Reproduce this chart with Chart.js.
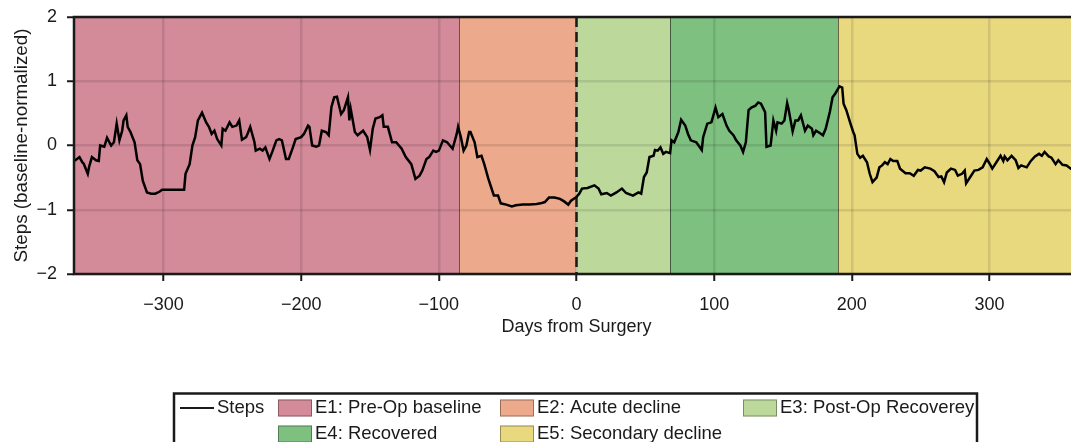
<!DOCTYPE html>
<html>
<head>
<meta charset="utf-8">
<script src="https://cdn.jsdelivr.net/npm/chart.js@4.4.1/dist/chart.umd.min.js"></script>
<style>
  html, body { margin: 0; padding: 0; background: #fff; overflow: hidden; }
  #wrap { position: relative; width: 1100px; height: 442px; }
  canvas { display: block; }
</style>
</head>
<body>
<div id="wrap"><canvas id="chart" width="1100" height="442"></canvas></div>
<script>
// データ: 手術からの日数と歩数 (ベースライン正規化)
const days = [
  -365,-364,-361,-359,-358,-355,-354,-352,-349,-347,
  -346,-343,-341,-338,-336,-334,-332,-330,-329,-327,
  -326,-324,-321,-319,-317,-315,-312,-309,-306,-303,
  -301,-285,-284,-281,-279,-277,-275,-272,-269,-267,
  -265,-263,-261,-258,-257,-255,-252,-250,-247,-245,
  -243,-240,-239,-237,-234,-233,-230,-228,-226,-223,
  -221,-218,-216,-214,-211,-209,-206,-204,-200,-198,
  -195,-194,-192,-189,-187,-185,-182,-180,-178,-176,
  -174,-171,-169,-166,-165,-164,-161,-159,-155,-152,
  -150,-148,-146,-143,-141,-140,-137,-134,-131,-127,
  -124,-120,-117,-114,-112,-109,-107,-104,-102,-100,
  -97,-94,-90,-87,-86,-84,-82,-80,-78,-77,
  -74,-72,-69,-67,-64,-62,-60,-57,-55,-51,
  -47,-44,-39,-34,-29,-26,-23,-20,-16,-12,
  -9,-6,-4,0,2,4,8,13,16,18,
  22,25,29,33,36,41,45,47,49,51,
  53,56,57,59,61,63,65,68,69,71,
  74,76,79,81,83,87,91,92,95,98,
  101,103,106,109,111,114,116,119,121,123,
  125,127,130,132,134,137,138,141,143,145,
  146,149,151,153,154,157,159,161,163,166,
  168,171,172,174,177,179,181,184,186,188,
  191,193,194,196,199,201,202,204,206,208,
  211,213,215,218,220,222,224,226,228,230,
  233,235,239,242,245,248,250,253,257,260,
  263,265,267,269,272,275,277,280,282,283,
  286,289,292,295,298,300,302,305,308,310,
  311,313,316,319,321,323,327,330,333,336,
  338,340,343,345,348,350,353,356,359,362,
  365
];
const steps = [
  -0.24,-0.23,-0.18,-0.26,-0.28,-0.44,-0.33,-0.18,-0.23,-0.24,
  0.00,-0.02,0.12,0.00,0.05,0.34,0.08,0.23,0.39,0.47,
  0.29,0.21,0.05,-0.23,-0.29,-0.55,-0.73,-0.75,-0.75,-0.72,
  -0.69,-0.69,-0.44,-0.29,0.00,0.13,0.39,0.51,0.36,0.29,
  0.18,0.23,0.10,0.00,0.26,0.23,0.36,0.29,0.31,0.39,
  0.09,0.13,0.18,0.29,0.06,-0.08,-0.05,-0.08,-0.03,-0.21,
  -0.10,0.08,0.10,0.08,-0.21,-0.21,-0.03,0.10,0.13,0.18,
  0.31,0.29,0.00,-0.02,0.00,0.23,0.21,0.16,0.60,0.75,
  0.76,0.49,0.55,0.75,0.39,0.57,0.21,0.16,0.23,0.13,
  -0.07,0.26,0.42,0.44,0.47,0.29,0.29,0.05,0.05,-0.05,
  -0.18,-0.29,-0.52,-0.47,-0.39,-0.21,-0.18,-0.08,-0.10,-0.08,
  0.08,0.05,-0.05,0.18,0.29,0.13,-0.08,0.00,0.21,0.21,
  0.05,-0.18,-0.16,-0.29,-0.52,-0.65,-0.78,-0.78,-0.90,-0.92,
  -0.95,-0.93,-0.92,-0.92,-0.91,-0.90,-0.88,-0.81,-0.81,-0.83,
  -0.87,-0.92,-0.86,-0.80,-0.75,-0.67,-0.66,-0.62,-0.67,-0.76,
  -0.74,-0.78,-0.73,-0.67,-0.74,-0.78,-0.73,-0.75,-0.49,-0.42,
  -0.18,-0.16,-0.07,-0.08,-0.03,-0.13,-0.10,-0.12,0.08,0.05,
  0.21,0.40,0.31,0.18,0.08,0.05,-0.07,0.13,0.34,0.36,
  0.59,0.44,0.49,0.31,0.23,0.16,0.08,0.00,-0.10,0.05,
  0.55,0.59,0.62,0.67,0.65,0.52,-0.02,0.00,0.39,0.23,
  0.36,0.34,0.39,0.66,0.57,0.22,0.39,0.39,0.47,0.23,
  0.31,0.26,0.16,0.23,0.19,0.16,0.26,0.52,0.75,0.81,
  0.92,0.90,0.65,0.55,0.34,0.21,0.16,-0.13,-0.19,-0.16,
  -0.26,-0.44,-0.57,-0.50,-0.34,-0.31,-0.26,-0.29,-0.21,-0.24,
  -0.24,-0.36,-0.43,-0.43,-0.47,-0.38,-0.39,-0.34,-0.36,-0.40,
  -0.49,-0.48,-0.57,-0.42,-0.36,-0.38,-0.47,-0.44,-0.39,-0.59,
  -0.49,-0.39,-0.38,-0.34,-0.21,-0.28,-0.36,-0.26,-0.16,-0.24,
  -0.17,-0.23,-0.16,-0.23,-0.35,-0.31,-0.34,-0.24,-0.17,-0.13,
  -0.16,-0.10,-0.17,-0.19,-0.29,-0.23,-0.30,-0.31,-0.36,-0.34,
  -0.36
];

// フェーズ (期間)
const phaseLabels = ['E1: Pre-Op baseline', 'E2: Acute decline', 'E3: Post-Op Recoverey', 'E4: Recovered', 'E5: Secondary decline'];
const phaseStart = [-365, -85, 0, 68, 190];
const phaseEnd = [-85, 0, 68, 190, 365];
const surgeryDay = 0;

// 軸
const xRange = [-365, 365];
const yRange = [-2, 2];
const xTicks = [-300, -200, -100, 0, 100, 200, 300];
const yTicks = [-2, -1, 0, 1, 2];

// スタイル
const phaseColors = ['#d38a99', '#eca98b', '#bdd89b', '#7ec080', '#e8d97f'];
const FONT = "'Liberation Sans', Arial, Helvetica, sans-serif";
const INK = '#1a1a1a';

const minusSign = v => (v < 0 ? '\u2212' + Math.abs(v) : String(v));

// 凡例の配置
const legendBox = { left: 174, right: 977, top: 393.5 };
const legendRows = [408, 434];
const legendCols = [278, 500, 743];
const legendSlots = [[0, 0], [0, 1], [0, 2], [1, 0], [1, 1]];

const phasePlugin = {
    id: 'phases',
    beforeDraw(chart) {
        const { ctx, chartArea: a, scales: { x } } = chart;
        ctx.save();
        phaseLabels.forEach((_, i) => {
            const x0 = x.getPixelForValue(phaseStart[i]);
            const x1 = x.getPixelForValue(phaseEnd[i]);
            ctx.fillStyle = phaseColors[i];
            ctx.fillRect(x0, a.top, x1 - x0, a.bottom - a.top);
        });
        // フェーズ境界の細線
        ctx.strokeStyle = 'rgba(0,0,0,0.55)';
        ctx.lineWidth = 1;
        phaseStart.slice(1).forEach(d => {
            if (d === surgeryDay) return;
            const px = Math.round(x.getPixelForValue(d)) + 0.5;
            ctx.beginPath();
            ctx.moveTo(px, a.top);
            ctx.lineTo(px, a.bottom);
            ctx.stroke();
        });
        ctx.restore();
    },
    beforeDatasetsDraw(chart) {
        // 手術日の破線
        const { ctx, chartArea: a, scales: { x } } = chart;
        const px = x.getPixelForValue(surgeryDay);
        ctx.save();
        ctx.strokeStyle = INK;
        ctx.lineWidth = 2.5;
        ctx.setLineDash([10, 5]);
        ctx.beginPath();
        ctx.moveTo(px, a.top);
        ctx.lineTo(px, a.bottom);
        ctx.stroke();
        ctx.restore();
    },
    afterDatasetsDraw(chart) {
        const { ctx, chartArea: a } = chart;
        ctx.save();
        ctx.strokeStyle = INK;
        ctx.lineWidth = 2.5;
        ctx.strokeRect(a.left, a.top, a.right - a.left, a.bottom - a.top);
        ctx.restore();
    },
    afterDraw(chart) {
        // 凡例
        const { ctx } = chart;
        ctx.save();
        ctx.strokeStyle = INK;
        ctx.lineWidth = 2.5;
        ctx.strokeRect(legendBox.left, legendBox.top, legendBox.right - legendBox.left, 120);

        ctx.font = `18.5px ${FONT}`;
        ctx.fillStyle = INK;
        ctx.textBaseline = 'middle';
        ctx.textAlign = 'left';

        ctx.lineWidth = 2.2;
        ctx.beginPath();
        ctx.moveTo(180, legendRows[0]);
        ctx.lineTo(214, legendRows[0]);
        ctx.stroke();
        ctx.fillText('Steps', 217, legendRows[0]);

        phaseLabels.forEach((label, i) => {
            const [r, c] = legendSlots[i];
            const bx = legendCols[c];
            const cy = legendRows[r];
            ctx.fillStyle = phaseColors[i];
            ctx.fillRect(bx, cy - 8.5, 34, 17);
            ctx.strokeStyle = 'rgba(0,0,0,0.35)';
            ctx.lineWidth = 1;
            ctx.strokeRect(bx + 0.5, cy - 8, 33, 16);
            ctx.fillStyle = INK;
            ctx.fillText(label, bx + 37, cy);
        });
        ctx.restore();
    }
};

const ctx = document.getElementById('chart').getContext('2d');
new Chart(ctx, {
    type: 'line',
    data: {
        datasets: [{
            label: 'Steps',
            data: days.map((d, i) => ({ x: d, y: steps[i] })),
            borderColor: '#000',
            borderWidth: 2.5,
            pointRadius: 0,
            tension: 0,
            fill: false
        }]
    },
    options: {
        responsive: false,
        animation: false,
        devicePixelRatio: 1,
        layout: { padding: { left: 0, top: 17, right: 21, bottom: 104 } },
        plugins: {
            legend: { display: false },
            tooltip: { enabled: false }
        },
        scales: {
            x: {
                type: 'linear',
                min: xRange[0],
                max: xRange[1],
                afterBuildTicks: s => { s.ticks = xTicks.map(v => ({ value: v })); },
                afterFit: s => { s.height = 64; s.paddingLeft = 0; s.paddingRight = 0; },
                grid: {
                    color: 'rgba(0,0,0,0.1)',
                    lineWidth: 2.5,
                    tickColor: INK,
                    tickLength: 7,
                    tickWidth: 2
                },
                border: { display: false },
                ticks: {
                    color: INK,
                    padding: 13,
                    maxRotation: 0,
                    font: { family: FONT, size: 18 },
                    callback: v => minusSign(v)
                },
                title: {
                    display: true,
                    text: 'Days from Surgery',
                    color: INK,
                    padding: 0,
                    font: { family: FONT, size: 18 }
                }
            },
            y: {
                min: yRange[0],
                max: yRange[1],
                afterBuildTicks: s => { s.ticks = yTicks.map(v => ({ value: v })); },
                afterFit: s => { s.width = 74; s.paddingTop = 0; s.paddingBottom = 0; },
                grid: {
                    color: 'rgba(0,0,0,0.1)',
                    lineWidth: 2.5,
                    tickColor: INK,
                    tickLength: 7,
                    tickWidth: 2
                },
                border: { display: false },
                ticks: {
                    color: INK,
                    padding: 10,
                    font: { family: FONT, size: 18 },
                    callback: v => minusSign(v)
                },
                title: {
                    display: true,
                    text: 'Steps (baseline-normalized)',
                    color: INK,
                    padding: { top: 11, bottom: 0 },
                    font: { family: FONT, size: 18.8 }
                }
            }
        }
    },
    plugins: [phasePlugin]
});
</script>
</body>
</html>
